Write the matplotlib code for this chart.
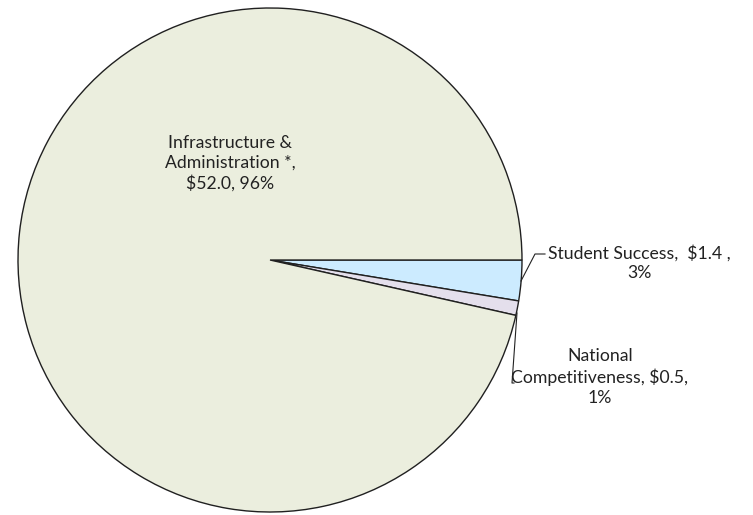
import matplotlib.pyplot as plt

# data (millions of $)
labels = ['Student Success', 'National\nCompetitiveness', 'Infrastructure &\nAdministration *']
values = [1.4, 0.5, 52.0]
pcts = ['3%', '1%', '96%']
colors = ['#CCEBFF', '#E4DFEC', '#EBEEDE']

W, H = 753, 515
fig = plt.figure(figsize=(W / 100, H / 100), dpi=100)
ax = fig.add_axes([0, 0, 1, 1])

cx, cy, r = 270, H - 260, 252
wedges, _ = ax.pie(values, colors=colors, startangle=0, counterclock=False,
                   center=(cx, cy), radius=r, frame=True,
                   wedgeprops=dict(edgecolor='#202020', linewidth=1.0))
ax.set_xlim(0, W)
ax.set_ylim(0, H)
ax.set_aspect('equal')
ax.axis('off')

font = dict(family=['Lato', 'DejaVu Sans'], fontsize=12.7, color='#222222')

# Infrastructure label inside the pie
ax.text(230, H - 163, 'Infrastructure &\nAdministration *,\n$52.0, 96%',
        ha='center', va='center', linespacing=1.3, **font)

# Student Success label with leader line
ax.plot([521, 535, 545], [H - 281, H - 254, H - 254], color='#222222', lw=0.8)
ax.text(639, H - 263, 'Student Success,  $1.4 ,\n3%', ha='center', va='center',
        linespacing=1.3, **font)

# National Competitiveness label with leader line
ax.plot([517, 512, 514], [H - 313, H - 383, H - 383], color='#222222', lw=0.8)
ax.text(600, H - 377, 'National\nCompetitiveness, $0.5,\n1%', ha='center', va='center',
        linespacing=1.3, **font)

fig.savefig('out.png', dpi=100)
